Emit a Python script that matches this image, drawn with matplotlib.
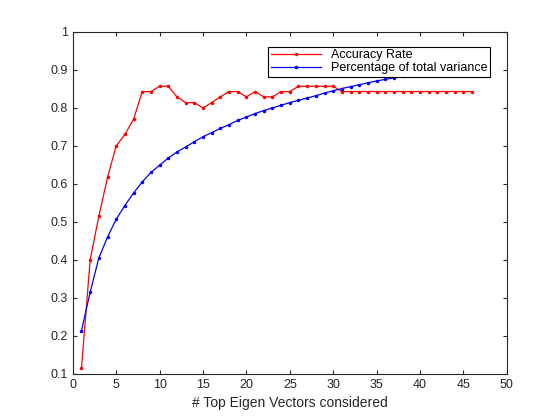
import numpy as np
import matplotlib.pyplot as plt

n_vectors = np.arange(1, 47)
accuracy = [0.115, 0.40, 0.515, 0.617, 0.70, 0.73, 0.77, 0.843, 0.843, 0.857,
            0.857, 0.829, 0.814, 0.814, 0.80, 0.814, 0.829, 0.843, 0.843, 0.829,
            0.843, 0.829, 0.829, 0.843, 0.843, 0.857, 0.857, 0.857, 0.857, 0.857,
            0.843, 0.843, 0.843, 0.843, 0.843, 0.843, 0.843, 0.843, 0.843, 0.843,
            0.843, 0.843, 0.843, 0.843, 0.843, 0.843]
variance = [0.213, 0.315, 0.405, 0.46, 0.507, 0.543, 0.576, 0.605, 0.63, 0.649,
            0.668, 0.684, 0.697, 0.711, 0.724, 0.735, 0.746, 0.756, 0.767, 0.776,
            0.785, 0.793, 0.80, 0.807, 0.814, 0.82, 0.826, 0.832, 0.839, 0.845,
            0.851, 0.856, 0.861, 0.866, 0.871, 0.875, 0.879, 0.883, 0.887, 0.891,
            0.895, 0.899, 0.902, 0.905, 0.908, 0.911]

plt.rcParams['font.family'] = ['Liberation Sans', 'DejaVu Sans']
axis_gray = '#262626'

fig = plt.figure(figsize=(5.6, 4.2), dpi=100)
ax = fig.add_axes([0.13, 0.11, 0.775, 0.814])

ax.plot(n_vectors, accuracy, '.-', color='red', linewidth=0.9, markersize=3, label='Accuracy Rate')
ax.plot(n_vectors, variance, '.-', color='blue', linewidth=0.9, markersize=3, label='Percentage of total variance')

ax.set_xlim(0, 50)
ax.set_ylim(0.1, 1)
ax.set_xticks(np.arange(0, 51, 5))
ax.set_yticks(np.round(np.arange(0.1, 1.01, 0.1), 1))
ax.set_yticklabels(['0.1', '0.2', '0.3', '0.4', '0.5', '0.6', '0.7', '0.8', '0.9', '1'])
ax.tick_params(direction='in', length=3, labelsize=9, top=True, right=True,
               labeltop=False, labelright=False, colors=axis_gray)
for s in ax.spines.values():
    s.set_color(axis_gray)
ax.set_xlabel('# Top Eigen Vectors considered', fontsize=10, color=axis_gray)

leg = ax.legend(loc='upper right', bbox_to_anchor=(0.975, 0.975), fontsize=9,
                fancybox=False, framealpha=1, edgecolor='black',
                borderpad=0.2, handlelength=4, labelspacing=0.1)
leg.get_frame().set_linewidth(0.8)

fig.savefig('out.png')
